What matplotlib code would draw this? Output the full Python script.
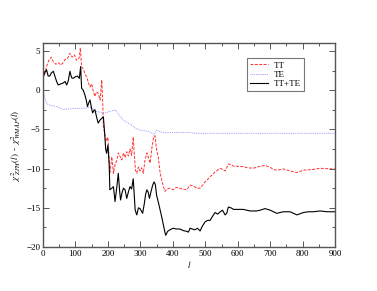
import matplotlib
matplotlib.use("Agg")
import matplotlib.pyplot as plt
from matplotlib.ticker import MultipleLocator

plt.rcParams['font.family'] = ['Liberation Serif', 'DejaVu Serif']
plt.rcParams['mathtext.fontset'] = 'stix'

l_tt = [0,5,11,18,26,32,40,47,55,62,68,75,83,90,97,103,108,112,115,119,125,130,135,140,145,150,155,160,165,170,176,181,184,186,190,195,200,206,212,217,222,227,232,238,243,248,253,258,263,268,273,278,281,285,289,294,299,304,309,314,320,325,330,335,340,345,350,355,361,366,371,376,381,391,401,411,421,431,443,453,463,474,484,490,499,507,515,522,530,538,546,553,561,566,571,579,587,600,617,630,648,669,684,700,710,720,741,761,782,802,818,833,854,870,900]
tt = [2.6,2.0,3.0,3.8,4.2,3.6,3.3,3.5,3.2,3.5,3.9,4.0,4.7,4.2,4.5,3.8,3.9,4.2,5.4,3.0,2.6,2.0,1.7,0.9,0.4,0.8,-0.2,-0.8,-0.2,-0.4,-1.25,1.3,-1.5,-4.6,-5.5,-6.5,-6.0,-10.6,-8.5,-10.6,-9.5,-9.0,-8.0,-8.5,-8.9,-8.0,-8.6,-7.85,-8.4,-7.5,-8.3,-6.0,-8.0,-10.2,-10.6,-9.8,-10.3,-9.9,-10.6,-9.0,-8.0,-8.6,-9.3,-7.5,-6.2,-5.8,-7.6,-8.5,-10.6,-11.5,-12.3,-12.9,-12.6,-12.5,-12.7,-12.4,-12.5,-12.6,-12.7,-12.1,-12.2,-12.5,-12.5,-12.2,-11.7,-11.4,-11.0,-10.8,-10.4,-10.2,-9.96,-10.1,-10.3,-9.9,-9.4,-9.5,-9.7,-9.7,-9.75,-9.9,-9.95,-9.7,-9.6,-9.85,-10.1,-10.2,-10.05,-10.3,-10.5,-10.2,-10.15,-10.1,-9.96,-10.0,-10.05]

l_te = [0,5,11,20,30,42,52,63,73,83,95,105,115,124,135,145,155,166,176,186,196,206,217,222,230,238,248,258,268,278,288,299,310,320,330,340,345,350,360,371,381,400,420,453,470,500,600,700,800,900]
te = [0.0,-0.9,-1.7,-1.9,-2.0,-2.1,-2.3,-2.5,-2.4,-2.4,-2.35,-2.3,-2.35,-2.3,-2.25,-2.2,-2.4,-2.75,-2.8,-2.9,-2.85,-2.7,-2.6,-2.5,-2.9,-3.4,-3.8,-4.1,-4.3,-4.6,-4.9,-5.1,-5.2,-5.2,-5.35,-5.6,-5.5,-5.1,-5.3,-5.4,-5.45,-5.4,-5.4,-5.4,-5.5,-5.5,-5.5,-5.5,-5.5,-5.5]

l_tot = [0,5,11,16,21,26,32,38,43,47,55,62,68,73,78,83,88,93,100,106,112,116,119,124,129,133,137,141,145,149,153,157,160,165,170,176,181,186,190,193,196,200,204,206,212,217,222,227,232,236,239,244,248,253,258,263,268,273,278,284,289,294,299,303,307,312,316,320,324,328,333,338,342,346,350,356,361,366,371,376,378,384,391,401,411,422,432,443,448,453,460,468,476,484,490,499,507,515,522,530,538,546,553,561,566,571,579,587,600,617,638,658,669,684,700,720,741,761,782,802,818,833,854,875,900]
tot = [1.5,2.2,2.6,1.8,1.8,2.2,2.4,1.6,1.0,0.66,0.8,0.9,1.1,0.66,1.2,2.4,1.6,1.5,1.7,1.8,1.5,3.0,0.24,0.0,-0.6,-1.2,-2.1,-1.6,-1.25,-2.2,-2.9,-2.6,-2.5,-3.4,-4.2,-3.8,-3.6,-3.4,-5.5,-7.5,-8.05,-7.0,-9.5,-12.7,-12.5,-12.3,-14.2,-12.5,-10.6,-12.8,-14.0,-13.0,-12.5,-12.7,-13.8,-13.0,-12.3,-12.6,-11.3,-15.3,-15.9,-15.0,-15.1,-15.4,-15.7,-14.5,-13.3,-12.7,-13.0,-13.8,-12.9,-12.1,-11.7,-12.0,-13.4,-14.4,-15.3,-16.2,-17.2,-18.2,-18.5,-18.0,-17.8,-17.6,-17.7,-17.7,-17.9,-18.0,-18.1,-17.6,-17.7,-17.8,-17.6,-17.95,-17.4,-16.8,-16.6,-16.6,-16.1,-15.6,-15.8,-15.5,-15.3,-15.9,-15.7,-14.9,-15.0,-15.2,-15.2,-15.2,-15.4,-15.4,-15.3,-15.1,-15.3,-15.7,-15.5,-15.5,-15.9,-15.6,-15.5,-15.5,-15.4,-15.5,-15.5]

fig = plt.figure(figsize=(3.77, 2.91), dpi=100)
ax = fig.add_axes([0.114, 0.151, 0.775, 0.701])

ax.plot(l_tt, tt, color='#ff3030', lw=0.7, ls=(0, (3, 1.5)), label='TT')
ax.plot(l_te, te, color='#8080ff', lw=0.6, ls=(0, (1, 1.2)), label='TE')
ax.plot(l_tot, tot, color='black', lw=0.8, ls='-', label='TT+TE')

ax.set_xlim(0, 900)
ax.set_ylim(-20, 6)
ax.xaxis.set_major_locator(MultipleLocator(100))
ax.xaxis.set_minor_locator(MultipleLocator(50))
ax.yaxis.set_major_locator(MultipleLocator(5))
ax.yaxis.set_minor_locator(MultipleLocator(2.5))
ax.tick_params(which='both', direction='in', top=True, right=True, labelsize=6.5, color='#555555', width=0.7)
ax.tick_params(which='major', length=4)
ax.tick_params(which='minor', length=2)
ax.tick_params(axis='x', pad=2)
ax.tick_params(axis='y', pad=2)
for s in ax.spines.values():
    s.set_color('#555555')
    s.set_linewidth(1.0)

ax.set_xlabel(r'$l$', fontsize=6.5, labelpad=1)
ax.set_ylabel(r'$\chi^2_{\ ZPH}(l)\,$ - $\,\chi^2_{\ WMAP}(l)$', fontsize=6.5, labelpad=2)

leg = ax.legend(loc='upper left', bbox_to_anchor=(0.699, 0.926), borderaxespad=0,
                fontsize=6.5, frameon=True, fancybox=False, handlelength=2.0,
                handletextpad=0.6, borderpad=0.35, labelspacing=0.1)
leg.get_frame().set_edgecolor('#555555')
leg.get_frame().set_linewidth(0.8)

fig.savefig('out.png', dpi=100)
